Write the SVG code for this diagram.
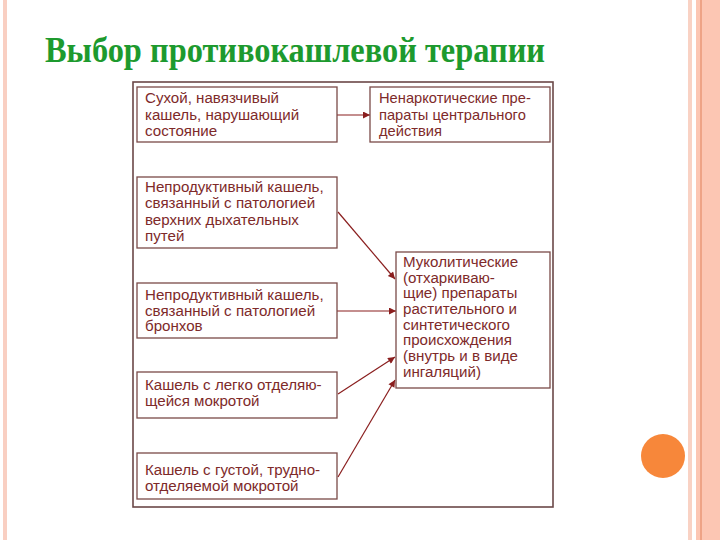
<svg xmlns="http://www.w3.org/2000/svg" width="720" height="540" viewBox="0 0 720 540">
<defs>
<style>
.t{font-family:"Liberation Sans",Arial,sans-serif;font-size:14px;fill:#7e2a2a}
.box{fill:#fff;stroke:#7a4a48;stroke-width:1.3}
.con{stroke:#8a1e1e;stroke-width:1.2;fill:none;marker-end:url(#ah)}
</style>
<marker id="ah" viewBox="0 0 10 10" refX="10" refY="5" markerWidth="9" markerHeight="7" markerUnits="userSpaceOnUse" orient="auto">
<path d="M0,0 L10,5 L0,10 z" fill="#8a1e1e"/>
</marker>
</defs>
<rect width="720" height="540" fill="#ffffff"/>
<rect x="3" y="0" width="4" height="540" fill="#f9cfc2"/>
<rect x="688" y="0" width="4" height="540" fill="#f9d2c4"/>
<rect x="696" y="0" width="24" height="540" fill="#fcc6b3"/>
<rect x="700" y="0" width="2" height="540" fill="#eea386"/>
<circle cx="663" cy="456" r="22" fill="#f7873a"/>
<text x="45" y="62" font-family="'Liberation Serif','Times New Roman',serif" font-weight="bold" font-size="35" fill="#1d9a2e" textLength="500" lengthAdjust="spacingAndGlyphs">Выбор противокашлевой терапии</text>
<rect x="133" y="82" width="420" height="425" fill="#fff" stroke="#6b4848" stroke-width="1.6"/>
<g id="connectors">
<line class="con" x1="337" y1="115" x2="370" y2="115"/>
<line class="con" x1="338" y1="212" x2="395" y2="279"/>
<line class="con" x1="337" y1="311" x2="396" y2="311"/>
<line class="con" x1="338" y1="394" x2="395" y2="357"/>
<line class="con" x1="338" y1="477" x2="395" y2="380"/>
</g>
<g id="n1"><rect class="box" x="137" y="87" width="200" height="55"/>
<g transform="translate(145,0) scale(1.08,1)">
<text class="t" x="0" y="103">Сухой, навязчивый</text>
<text class="t" x="0" y="120">кашель, нарушающий</text>
<text class="t" x="0" y="136">состояние</text></g></g>
<g id="n2"><rect class="box" x="370" y="87" width="180" height="55"/>
<g transform="translate(379,0) scale(1.05,1)">
<text class="t" x="0" y="103">Ненаркотические пре-</text>
<text class="t" x="0" y="120">параты центрального</text>
<text class="t" x="0" y="136">действия</text></g></g>
<g id="n3"><rect class="box" x="137" y="177" width="200" height="71"/>
<g transform="translate(145,0) scale(1.08,1)">
<text class="t" x="0" y="192">Непродуктивный кашель,</text>
<text class="t" x="0" y="208">связанный с патологией</text>
<text class="t" x="0" y="225">верхних дыхательных</text>
<text class="t" x="0" y="241">путей</text></g></g>
<g id="n4"><rect class="box" x="137" y="283" width="200" height="55"/>
<g transform="translate(145,0) scale(1.08,1)">
<text class="t" x="0" y="300">Непродуктивный кашель,</text>
<text class="t" x="0" y="316">связанный с патологией</text>
<text class="t" x="0" y="331">бронхов</text></g></g>
<g id="n5"><rect class="box" x="137" y="372" width="200" height="46"/>
<g transform="translate(145,0) scale(1.08,1)">
<text class="t" x="0" y="390">Кашель с легко отделяю-</text>
<text class="t" x="0" y="406">щейся мокротой</text></g></g>
<g id="n6"><rect class="box" x="137" y="453" width="200" height="46"/>
<g transform="translate(145,0) scale(1.08,1)">
<text class="t" x="0" y="475">Кашель с густой, трудно-</text>
<text class="t" x="0" y="491">отделяемой мокротой</text></g></g>
<g id="n7"><rect class="box" x="396" y="252" width="154" height="136"/>
<g transform="translate(403,0) scale(1.08,1)">
<text class="t" x="0" y="267">Муколитические</text>
<text class="t" x="0" y="283">(отхаркиваю-</text>
<text class="t" x="0" y="298">щие) препараты</text>
<text class="t" x="0" y="314">растительного и</text>
<text class="t" x="0" y="330">синтетического</text>
<text class="t" x="0" y="345">происхождения</text>
<text class="t" x="0" y="361">(внутрь и в виде</text>
<text class="t" x="0" y="377">ингаляций)</text></g></g>
</svg>
